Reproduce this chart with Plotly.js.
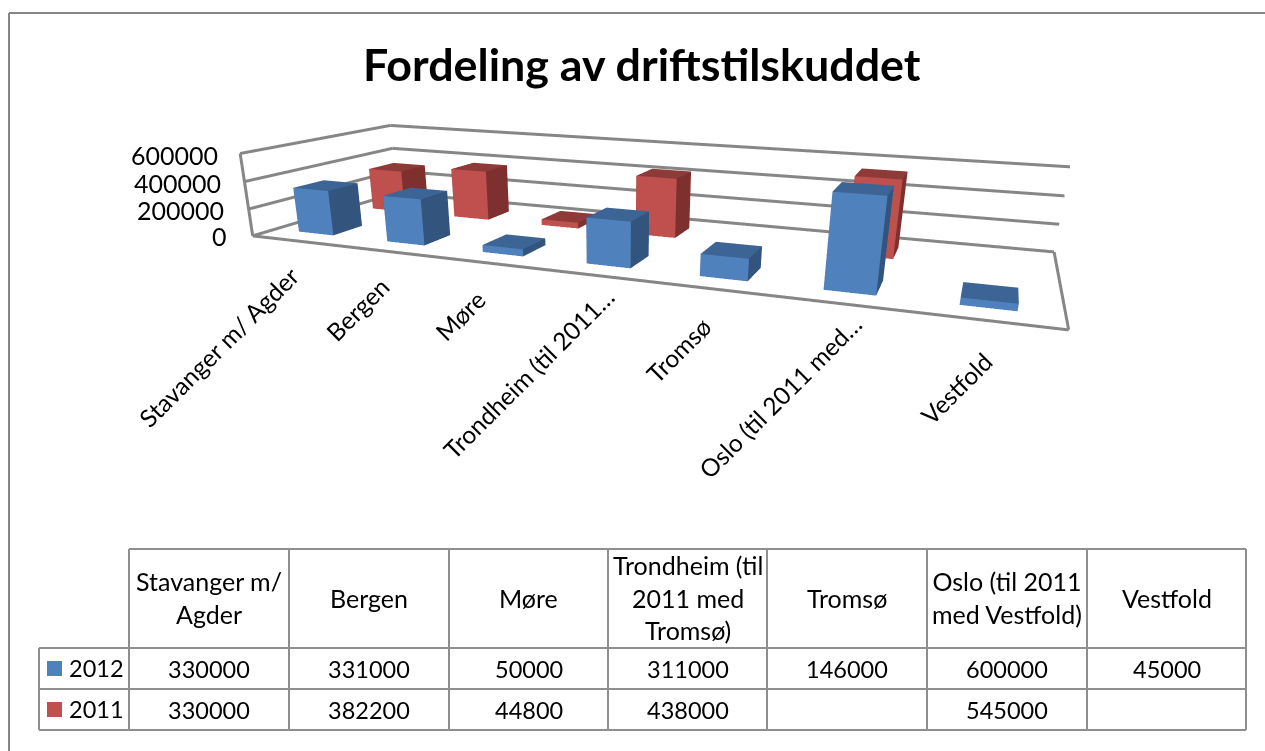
<!DOCTYPE html>
<html><head><meta charset="utf-8"><script src="https://cdn.plot.ly/plotly-3.0.1.min.js"></script>
<style>html,body{margin:0;padding:0;background:#fff;overflow:hidden}#g{width:1265px;height:751px}text{font-variant-ligatures:none}</style></head>
<body><div id="g"></div><script>
const chartTitle='Fordeling av driftstilskuddet';
const axisLabels=['Stavanger m/ Agder','Bergen','Møre','Trondheim (til 2011…','Tromsø','Oslo (til 2011 med…','Vestfold'];
const tableHeaders=['Stavanger m/<br>Agder','Bergen','Møre','Trondheim (til<br>2011 med<br>Tromsø)','Tromsø','Oslo (til 2011<br>med Vestfold)','Vestfold'];
const seriesNames=['2012','2011'];
const values2012=[330000,331000,50000,311000,146000,600000,45000];
const values2011=[330000,382200,44800,438000,null,545000,null];
const zTicks=[0,200000,400000,600000];

const W=1265,H=751;
const px=x=>x/W, py=y=>1-y/H;
const FONT='Lato, Carlito, sans-serif';
const GRID='#868686', TBL='#8f8f8f';
const palettes=[{front:'#4f81bd',top:'#3c6494',side:'#33547d'},{front:'#c0504d',top:'#8e3a38',side:'#7d302e'}];
const barOffset=0.279,barW=0.398,barDepth=0.19,rowStart=[0.133,0.639];

function barsTrace(vals,row,pal){
  const X=[],Y=[],Z=[],I=[],J=[],K=[],C=[];
  vals.forEach((v,c)=>{
    if(v===null)return;
    const n=X.length,x0=c+barOffset,x1=x0+barW,y0=rowStart[row],y1=y0+barDepth;
    [[x0,y0,0],[x1,y0,0],[x1,y1,0],[x0,y1,0],[x0,y0,v],[x1,y0,v],[x1,y1,v],[x0,y1,v]].forEach(p=>{X.push(p[0]);Y.push(p[1]);Z.push(p[2])});
    const quad=(a,b,d,e,col)=>{I.push(n+a,n+a);J.push(n+b,n+d);K.push(n+d,n+e);C.push(col,col)};
    quad(0,1,5,4,pal.front);quad(1,2,6,5,pal.side);quad(4,5,6,7,pal.top);quad(3,0,4,7,pal.side);quad(2,3,7,6,pal.front);
  });
  return{type:'mesh3d',x:X,y:Y,z:Z,i:I,j:J,k:K,facecolor:C,flatshading:true,hoverinfo:'skip',showscale:false,
    lighting:{ambient:1,diffuse:0,specular:0,roughness:1,fresnel:0}};
}
function seg(a,b){return{type:'scatter3d',mode:'lines',x:[a[0],b[0]],y:[a[1],b[1]],z:[a[2],b[2]],line:{color:GRID,width:6},hoverinfo:'skip',showlegend:false}}
const nC=axisLabels.length, zMax=zTicks[zTicks.length-1];
const traces=[];
zTicks.forEach(z=>{traces.push(seg([0,0,z],[0,1,z]),seg([0,1,z],[nC,1,z]))});
traces.push(seg([0,0,0],[nC,0,0]),seg([nC,0,0],[nC,1,0]),seg([0,0,0],[0,0,zMax]));
traces.push(barsTrace(values2012,0,palettes[0]),barsTrace(values2011,1,palettes[1]));

const ann=[],shp=[];
function txt(x,y,t,size,extra){ann.push(Object.assign({xref:'paper',yref:'paper',x:px(x),y:py(y),text:t,showarrow:false,font:{family:FONT,size:size,color:'#000'},xanchor:'center',yanchor:'middle'},extra||{}))}
function ln(x0,y0,x1,y1,col){shp.push({type:'line',xref:'paper',yref:'paper',x0:px(x0),y0:py(y0),x1:px(x1),y1:py(y1),line:{color:col,width:2}})}
txt(642,64,'<b>'+chartTitle+'</b>',44.8);
const tickY=[236,210,183,155],tickX=[229,226,223,220];
zTicks.forEach((z,i)=>txt(tickX[i],tickY[i],String(z),25,{xanchor:'right'}));
const labelC=[[218,347],[357,309],[460,315],[528,373],[678,350],[780,396],[956,388]];
axisLabels.forEach((t,i)=>txt(labelC[i][0],labelC[i][1],t,24.5,{textangle:-45}));

const colX=[129,289,449,608,767,927,1087,1246], rowY=[549,648,689,730], legL=39;
colX.forEach(x=>ln(x,rowY[0],x,rowY[3],TBL));
ln(colX[0],rowY[0],colX[7],rowY[0],TBL);
rowY.slice(1).forEach(y=>ln(legL,y,colX[7],y,TBL));
ln(legL,rowY[1],legL,rowY[3],TBL);
tableHeaders.forEach((t,i)=>txt((colX[i]+colX[i+1])/2,(rowY[0]+rowY[1])/2-1,t,25));
[values2012,values2011].forEach((vals,r)=>{
  const cy=(rowY[r+1]+rowY[r+2])/2;
  txt(96,cy-1,seriesNames[r],23.5);
  shp.push({type:'rect',xref:'paper',yref:'paper',x0:px(47),x1:px(62),y0:py(cy+7.5),y1:py(cy-7.5),fillcolor:palettes[r].front,line:{width:0}});
  vals.forEach((v,c)=>{if(v!==null)txt((colX[c]+colX[c+1])/2,cy,String(v),23.5)});
});
ln(9,13,W,13,GRID);ln(9,13,9,H,GRID);

const ax={visible:false,showgrid:false,zeroline:false,showbackground:false,showspikes:false};
Plotly.newPlot('g',traces,{margin:{l:0,r:0,t:0,b:0},width:W,height:H,paper_bgcolor:'#fff',showlegend:false,annotations:ann,shapes:shp,
 scene:{domain:{x:[0,1],y:[0,1]},aspectmode:'manual',aspectratio:{x:9.23803,y:3.03782,z:1},
  xaxis:Object.assign({},ax,{range:[0,nC]}),yaxis:Object.assign({},ax,{range:[0,1]}),zaxis:Object.assign({},ax,{range:[0,zMax]}),
  camera:{eye:{x:3.70547,y:-10.13449,z:2.16354},center:{x:-0.39347,y:0.61964,z:-2.51964},up:{x:-0.03949,y:0.07992,z:1},projection:{type:'perspective'}}}},{displayModeBar:false});
</script></body></html>
